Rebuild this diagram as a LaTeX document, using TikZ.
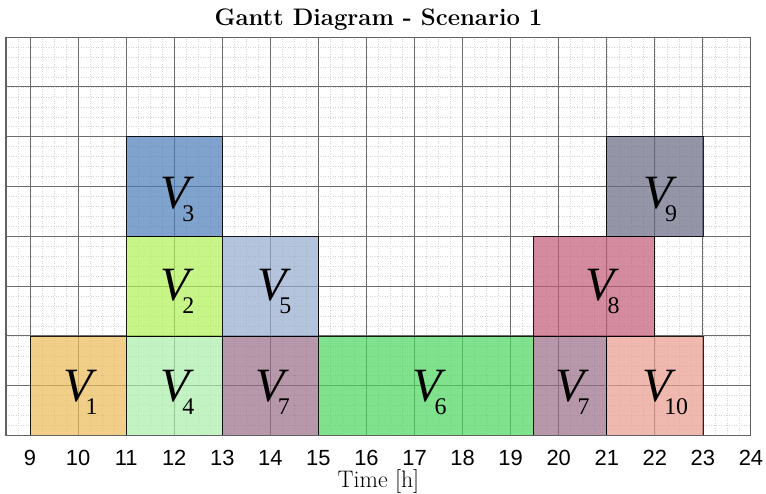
\documentclass[tikz,border=0pt]{standalone}
\usepackage{fontspec}
\newfontfamily\tickfont{Liberation Sans}
\newfontfamily\labfont{Liberation Serif}
\definecolor{cone}{RGB}{236,186,85}
\definecolor{ctwo}{RGB}{176,241,84}
\definecolor{cthree}{RGB}{72,124,182}
\definecolor{cfour}{RGB}{169,236,169}
\definecolor{cfive}{RGB}{148,171,205}
\definecolor{csix}{RGB}{74,214,91}
\definecolor{cseven}{RGB}{152,108,134}
\definecolor{ceight}{RGB}{194,90,118}
\definecolor{cnine}{RGB}{102,105,131}
\definecolor{cten}{RGB}{234,155,141}
\newcommand{\vlabel}[1]{\labfont\fontsize{48}{48}\selectfont\itshape V\hspace{-7bp}\raisebox{-13bp}{\upshape\fontsize{24}{24}\selectfont #1}}
\tikzset{
  minorgrid/.style={draw=black!16, line width=0.5bp, dotted},
  majorgrid/.style={draw=black!58, line width=0.9bp},
  plotframe/.style={draw=black!62, line width=1.1bp},
  task/.style={fill opacity=0.7, draw=black, draw opacity=0.85, line width=0.7bp},
  vlab/.style={anchor=base west, inner sep=0pt, text=black},
  ticklab/.style={anchor=base, inner sep=0pt, font=\tickfont\fontsize{22}{22}\selectfont},
}
\begin{document}
\begin{tikzpicture}[x=48.06bp, y=49.8bp]
\useasboundingbox (8.3752,-1.1747) rectangle (24.3135,8.745);
% minor grid
\foreach \i in {1,...,61}{\draw[minorgrid] ({8.5+0.25*\i},0) -- ({8.5+0.25*\i},8);}
\foreach \j in {1,...,39}{\draw[minorgrid] (8.5,{0.2*\j}) -- (24,{0.2*\j});}
% major grid
\foreach \x in {9,...,23}{\draw[majorgrid] (\x,0) -- (\x,8);}
\foreach \y in {1,...,7}{\draw[majorgrid] (8.5,\y) -- (24,\y);}
% tasks
\draw[task, fill=cone]   (9,0) rectangle (11,2);
\draw[task, fill=cfour]  (11,0) rectangle (13,2);
\draw[task, fill=cseven] (13,0) rectangle (15,2);
\draw[task, fill=csix]   (15,0) rectangle (19.47,2);
\draw[task, fill=cseven] (19.47,0) rectangle (21,2);
\draw[task, fill=cten]   (21,0) rectangle (23,2);
\draw[task, fill=ctwo]   (11,2) rectangle (13,4);
\draw[task, fill=cfive]  (13,2) rectangle (15,4);
\draw[task, fill=ceight] (19.47,2) rectangle (22,4);
\draw[task, fill=cthree] (11,4) rectangle (13,6);
\draw[task, fill=cnine]  (21,4) rectangle (23,6);
% frame
\draw[plotframe] (8.5,0) rectangle (24,8);
% labels
\node[vlab] (v1)  at (9.69,0.673)  {\vlabel{1}};
\node[vlab] (v4)  at (11.705,0.673) {\vlabel{4}};
\node[vlab] (v7a) at (13.69,0.673) {\vlabel{7}};
\node[vlab] (v6)  at (16.95,0.673) {\vlabel{6}};
\node[vlab] (v7b) at (19.93,0.673) {\vlabel{7}};
\node[vlab] (v10) at (21.73,0.673) {\vlabel{10}};
\node[vlab] (v2)  at (11.705,2.72) {\vlabel{2}};
\node[vlab] (v5)  at (13.72,2.72)  {\vlabel{5}};
\node[vlab] (v8)  at (20.55,2.72)  {\vlabel{8}};
\node[vlab] (v3)  at (11.705,4.568) {\vlabel{3}};
\node[vlab] (v9)  at (21.75,4.568) {\vlabel{9}};
% axis
\foreach \x in {9,...,24}{\node[ticklab] (t\x) at (\x,-0.612) {\x};}
\node[anchor=base, inner sep=0pt, font=\fontsize{24}{24}\selectfont] (xlab) at (16.25,-1.054) {Time [h]};
\node[anchor=base, inner sep=0pt, font=\bfseries\fontsize{24}{24}\selectfont] (title) at (16.25,8.223) {Gantt Diagram - Scenario 1};
\end{tikzpicture}
\end{document}
